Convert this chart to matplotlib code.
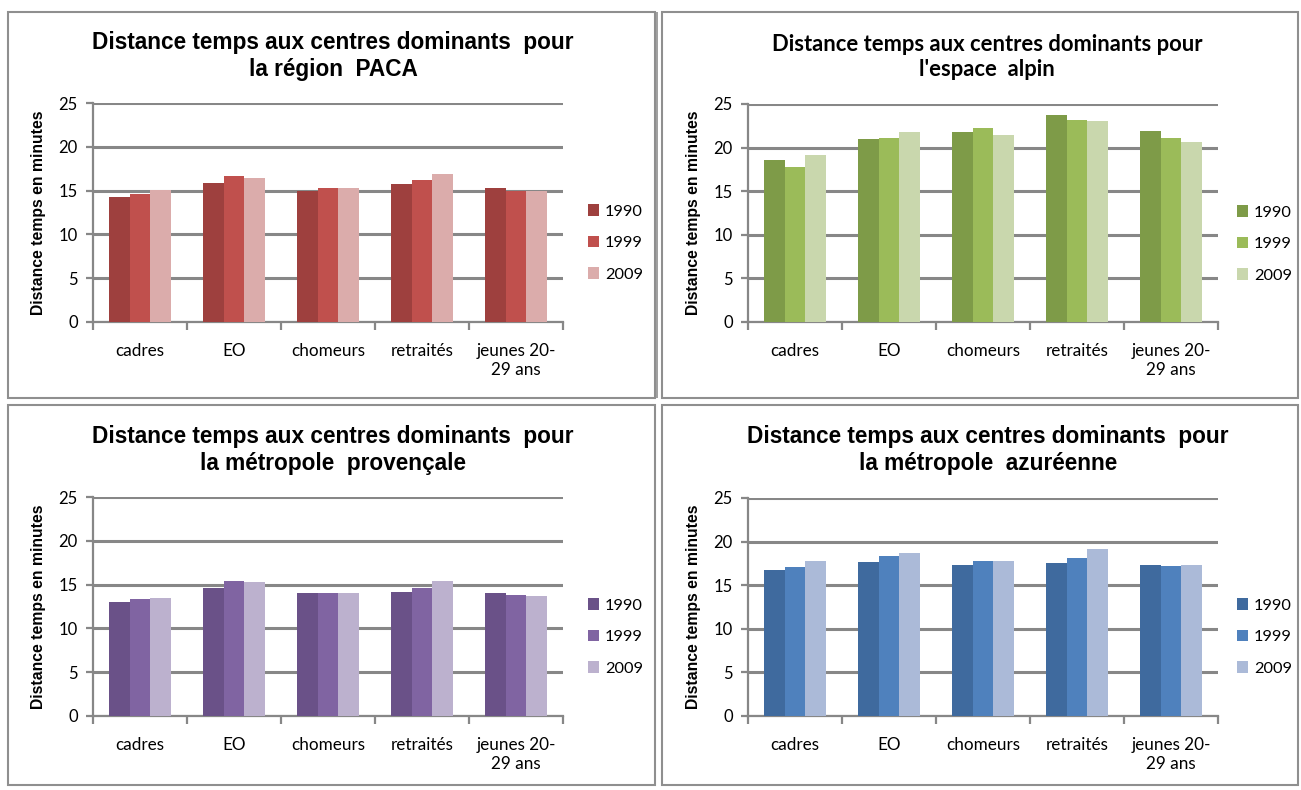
import matplotlib

matplotlib.use("Agg")
import matplotlib.pyplot as plt
import numpy as np
from matplotlib.patches import Rectangle

categories = ["cadres", "EO", "chomeurs", "retraités", "jeunes 20-\n29 ans"]
years = ["1990", "1999", "2009"]

paca_1990 = [14.3, 15.85, 14.95, 15.7, 15.25]
paca_1999 = [14.6, 16.65, 15.25, 16.2, 14.95]
paca_2009 = [15.1, 16.45, 15.25, 16.9, 14.95]

alpin_1990 = [18.55, 21.0, 21.8, 23.7, 21.95]
alpin_1999 = [17.75, 21.15, 22.25, 23.2, 21.15]
alpin_2009 = [19.15, 21.8, 21.5, 23.05, 20.6]

provence_1990 = [13.05, 14.6, 14.0, 14.15, 14.0]
provence_1999 = [13.35, 15.4, 14.0, 14.6, 13.85]
provence_2009 = [13.5, 15.25, 14.0, 15.4, 13.7]

azur_1990 = [16.75, 17.65, 17.35, 17.5, 17.35]
azur_1999 = [17.05, 18.3, 17.8, 18.1, 17.2]
azur_2009 = [17.8, 18.75, 17.8, 19.2, 17.35]

TITLE_FONT = "Liberation Sans"
BODY_FONT = "Lato"
GRID = "#878787"

panels = [
    {
        "title": "Distance temps aux centres dominants  pour\nla région  PACA",
        "series": [paca_1990, paca_1999, paca_2009],
        "colors": ["#9e403e", "#c0504d", "#dbacab"],
        "axes": [93 / 1301, 1 - 322 / 790, 470 / 1301, 219 / 790],
        "title_y": 56, "title_x": 333, "title_font": TITLE_FONT, "title_size": 16.3,
        "legend_x": 573, "legend_y": 243,
    },
    {
        "title": "Distance temps aux centres dominants pour\nl'espace  alpin",
        "series": [alpin_1990, alpin_1999, alpin_2009],
        "colors": ["#7e9b48", "#9bbb59", "#c9d7ad"],
        "axes": [748 / 1301, 1 - 322 / 790, 470 / 1301, 218 / 790],
        "title_y": 57, "title_x": 987, "title_font": BODY_FONT, "title_size": 15.8,
        "legend_x": 1222, "legend_y": 244,
    },
    {
        "title": "Distance temps aux centres dominants  pour\nla métropole  provençale",
        "series": [provence_1990, provence_1999, provence_2009],
        "colors": ["#6a5188", "#8064a2", "#bcb1ce"],
        "axes": [93 / 1301, 1 - 716 / 790, 470 / 1301, 219 / 790],
        "title_y": 450, "title_x": 333, "title_font": TITLE_FONT, "title_size": 16.3,
        "legend_x": 573, "legend_y": 637,
    },
    {
        "title": "Distance temps aux centres dominants  pour\nla métropole  azuréenne",
        "series": [azur_1990, azur_1999, azur_2009],
        "colors": ["#3f6a9e", "#4f81bd", "#abbad8"],
        "axes": [748 / 1301, 1 - 716 / 790, 470 / 1301, 218 / 790],
        "title_y": 450, "title_x": 988, "title_font": TITLE_FONT, "title_size": 16.3,
        "legend_x": 1222, "legend_y": 637,
    },
]

W, H = 1301, 790
fig = plt.figure(figsize=(13.01, 7.90), dpi=100)
fig.patch.set_facecolor("white")

# panel frames
for x0, y0, x1, y1 in [(8, 12, 655, 398), (662, 12, 1298, 398), (8, 405, 655, 785), (662, 405, 1298, 785)]:
    fig.add_artist(Rectangle((x0 / W, 1 - y1 / H), (x1 - x0) / W, (y1 - y0) / H,
                             transform=fig.transFigure, fill=False, edgecolor="#8f8f8f", linewidth=1.5))
fig.add_artist(Rectangle((657 / W, 1 - 398 / H), 0, 386 / H, transform=fig.transFigure,
                         fill=False, edgecolor="#8f8f8f", linewidth=1.2))

x = np.arange(len(categories))
width = 1 / 4.5

for p in panels:
    ax = fig.add_axes(p["axes"])
    for i, (vals, col, yr) in enumerate(zip(p["series"], p["colors"], years)):
        ax.bar(x + (i - 1) * width, vals, width, color=col, label=yr, zorder=3, linewidth=0)
    ax.set_xlim(-0.5, len(categories) - 0.5)
    ax.set_ylim(0, 25)
    ax.set_yticks([0, 5, 10, 15, 20, 25])
    ax.yaxis.grid(True, color=GRID, linewidth=2.2, zorder=0)
    ax.set_axisbelow(True)
    for s in ["top", "right"]:
        ax.spines[s].set_visible(False)
    for s in ["left", "bottom"]:
        ax.spines[s].set_color(GRID)
        ax.spines[s].set_linewidth(1.6)
    ax.set_xticks(x)
    ax.set_xticklabels(categories, fontfamily=BODY_FONT, fontsize=12.3, linespacing=1.25)
    ax.set_xticks(np.arange(-0.5, len(categories)), minor=True)
    ax.tick_params(axis="x", which="major", length=0, pad=15)
    ax.tick_params(axis="x", which="minor", length=6, width=1.6, color=GRID, direction="out")
    ax.tick_params(axis="y", length=5, width=1.6, color=GRID, labelsize=12, pad=6)
    for lbl in ax.get_yticklabels():
        lbl.set_fontfamily(BODY_FONT)
    ax.set_ylabel("Distance temps en minutes", fontfamily=TITLE_FONT, fontweight="bold",
                  fontsize=11.3, labelpad=9)
    fig.text(p["title_x"] / W, 1 - p["title_y"] / H, p["title"], ha="center", va="center",
             fontfamily=p["title_font"], fontweight="bold", fontsize=p["title_size"], linespacing=1.25)
    ax.legend(loc="center left", bbox_to_anchor=(p["legend_x"] / W, 1 - p["legend_y"] / H),
              bbox_transform=fig.transFigure, frameon=False, handlelength=0.7, handleheight=0.7,
              handletextpad=0.35, labelspacing=1.05, prop={"family": BODY_FONT, "size": 11.8})

fig.savefig("out.png", dpi=100, facecolor="white")
